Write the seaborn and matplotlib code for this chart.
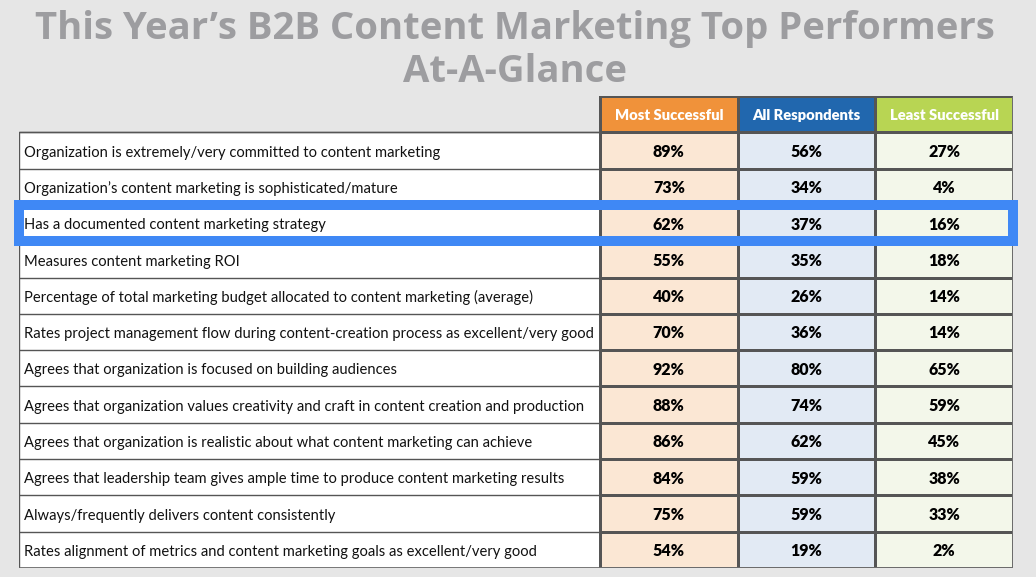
"""Top performers at-a-glance table, drawn as a seaborn heatmap."""
import numpy as np
import matplotlib.pyplot as plt
import seaborn as sns
from matplotlib.colors import ListedColormap
from matplotlib.patches import Rectangle

labels = [
    'Organization is extremely/very committed to content marketing',
    'Organization’s content marketing is sophisticated/mature',
    'Has a documented content marketing strategy',
    'Measures content marketing ROI',
    'Percentage of total marketing budget allocated to content marketing (average)',
    'Rates project management flow during content-creation process as excellent/very good',
    'Agrees that organization is focused on building audiences',
    'Agrees that organization values creativity and craft in content creation and production',
    'Agrees that organization is realistic about what content marketing can achieve',
    'Agrees that leadership team gives ample time to produce content marketing results',
    'Always/frequently delivers content consistently',
    'Rates alignment of metrics and content marketing goals as excellent/very good',
]
groups = ['Most Successful', 'All Respondents', 'Least Successful']
most_successful = [89, 73, 62, 55, 40, 70, 92, 88, 86, 84, 75, 54]
all_respondents = [56, 34, 37, 35, 26, 36, 80, 74, 62, 59, 59, 19]
least_successful = [27, 4, 16, 18, 14, 14, 65, 59, 45, 38, 33, 2]
highlight = 'Has a documented content marketing strategy'

light = ['#fbe7d4', '#e2eaf4', '#f3f7ea']
dark = ['#f0923a', '#2167ae', '#b8d553']
BG = '#e6e6e6'
FONT = ['Lato', 'DejaVu Sans']


def main():
    sns.set_theme(style='white')
    plt.rcParams['font.family'] = FONT

    n = len(labels)
    codes = np.vstack([[3, 4, 5], np.tile([0, 1, 2], (n, 1))])
    vals = np.column_stack([most_successful, all_respondents, least_successful])
    annot = np.vstack([groups, np.vectorize(lambda v: f'{v}%')(vals)])

    fig = plt.figure(figsize=(10.36, 5.77), dpi=100, facecolor=BG)
    ax = fig.add_axes([19 / 1036, 1 - 568 / 577, 994 / 1036, 472 / 577])
    ax.set_facecolor('none')

    sns.heatmap(codes, cmap=ListedColormap(light + dark), vmin=-0.5, vmax=5.5,
                annot=annot, fmt='', linewidths=1, linecolor='#555555',
                cbar=False, xticklabels=False, yticklabels=False, ax=ax,
                annot_kws={'fontsize': 11.5, 'fontweight': 'heavy'})
    for t in ax.texts:
        t.set_fontweight('heavy')
        if t.get_text() in groups:
            t.set_color('white')
            t.set_fontsize(10.6)
        else:
            t.set_color('black')
        x, y = t.get_position()
        t.set_position((x, y + 0.04))

    # label column, width in units of one value column
    w = 581 / (413 / 3)
    ax.add_patch(Rectangle((-w, 1), w, n, facecolor='white',
                           edgecolor='#555555', lw=1, zorder=0))
    for i, lab in enumerate(labels):
        ax.plot([-w, 0], [i + 1, i + 1], color='#555555', lw=1)
        ax.text(-w + 0.035, i + 1.56, lab, ha='left', va='center',
                fontsize=10.6, color='#111111')

    # bottom / right shadow
    ax.plot([-w, 3, 3], [n + 1, n + 1, 0], color='#6f6f6f', lw=2,
            solid_capstyle='butt', solid_joinstyle='miter')

    # highlighted row
    r = labels.index(highlight) + 1
    ax.add_patch(Rectangle((-w, r), w + 3, 1, facecolor='none',
                           edgecolor='#3f88f5', lw=7.2, clip_on=False, zorder=5))

    ax.set_xlim(-w, 3)
    ax.set_ylim(n + 1, 0)
    ax.axis('off')

    fig.text(0.497, 0.982, 'This Year’s B2B Content Marketing Top Performers\nAt-A-Glance',
             ha='center', va='top', fontsize=27.5, fontweight='bold',
             color='#9d9da0', linespacing=1.15, family=['Open Sans', 'DejaVu Sans'])

    fig.savefig('out.png', dpi=100, facecolor=BG)


if __name__ == '__main__':
    main()
